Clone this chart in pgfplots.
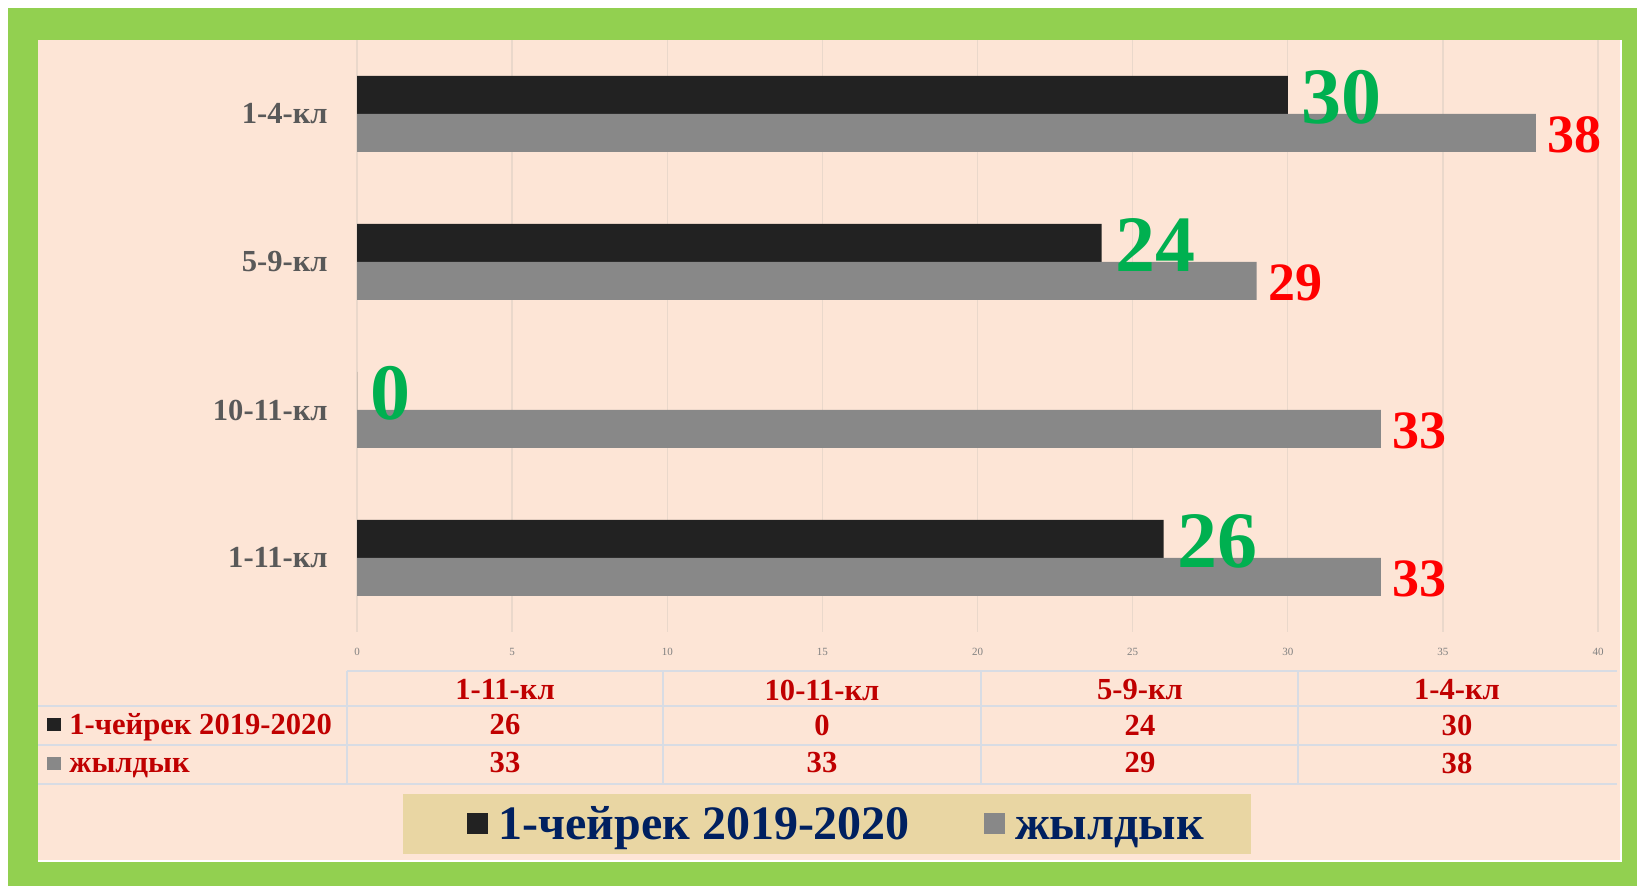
\documentclass[border=0pt]{standalone}
\usepackage{pgfplots}
\pgfplotsset{compat=1.18}
\usepackage{fontspec}
\setmainfont{Liberation Serif}
\definecolor{bordergreen}{HTML}{92D050}
\definecolor{peach}{HTML}{FDE5D6}
\definecolor{barblack}{HTML}{222222}
\definecolor{bargray}{HTML}{888888}
\definecolor{lblgreen}{HTML}{00B050}
\definecolor{lblred}{HTML}{FF0000}
\definecolor{tblred}{HTML}{C00000}
\definecolor{navy}{HTML}{002060}
\definecolor{papyrus}{HTML}{E9D6A3}
\definecolor{catgray}{HTML}{595959}
\definecolor{gridc}{HTML}{EAD8CB}
\definecolor{tblline}{HTML}{D8DCE4}
\newcommand{\tblfont}{\fontsize{15.3}{15.3}\selectfont\bfseries}
\begin{document}
\begin{tikzpicture}[x=0.5pt,y=0.5pt]
\fill[white] (0,0) rectangle (1637,886);
\fill[bordergreen] (8,0) rectangle (1637,878);
\fill[peach] (38,24) rectangle (1622,846);
\draw[white, line width=1.2pt] (1621,846) -- (1621,25) -- (38,25);
\fill[papyrus] (403,32) rectangle (1251,92);
% table grid
\begin{scope}[tblline, line width=0.7pt]
\draw (347,215) -- (1617,215);
\draw (38,180) -- (1617,180);
\draw (38,141) -- (1617,141);
\draw (38,102) -- (1617,102);
\foreach \x in {347,663,981,1298} \draw (\x,215) -- (\x,102);
\end{scope}
% table text
\begin{scope}[every node/.style={font=\tblfont, text=tblred, inner sep=0pt}]
\node at (505,196) {1-11-кл};
\node at (822,196) {10-11-кл};
\node at (1140,196) {5-9-кл};
\node at (1457,196) {1-4-кл};
\node at (505,161) {26};
\node at (822,161) {0};
\node at (1140,161) {24};
\node at (1457,161) {30};
\node at (505,123) {33};
\node at (822,123) {33};
\node at (1140,123) {29};
\node at (1457,123) {38};
\node[anchor=base west] at (69,151) {1-чейрек 2019-2020};
\node[anchor=base west] at (69,113) {жылдык};
\end{scope}
\fill[barblack] (47,155) rectangle (61,168);
\fill[bargray] (47,116) rectangle (61,129);
\begin{axis}[
  at={(178.5pt,127pt)}, anchor=south west,
  scale only axis, width=620.5pt, height=296pt,
  xbar, bar width=19pt,
  xmin=0, xmax=40, ymin=-0.5, ymax=3.5,
  axis line style={draw=none},
  major tick length=0pt,
  xmajorgrids, grid style={gridc, line width=0.7pt},
  xtick={0,5,...,40},
  xticklabel style={font=\fontsize{5.5}{5.5}\selectfont, text=gray, inner sep=0pt, anchor=center, yshift=-10pt},
  /pgf/number format/assume math mode=true,
  ytick={0,1,2,3},
  yticklabels={1-11-кл,10-11-кл,5-9-кл,1-4-кл},
  yticklabel style={font=\fontsize{15.3}{15.3}\selectfont\bfseries, text=catgray, inner sep=0pt, xshift=-14.5pt},
  legend columns=2,
  legend style={at={(0.3856,-0.3243)}, anchor=center, draw=none, fill=none,
    font=\fontsize{24}{24}\selectfont\bfseries, text=navy, nodes={inner sep=0pt},
    /tikz/every odd column/.append style={column sep=5pt},
    /tikz/every even column/.append style={column sep=37pt}},
  legend image code/.code={\fill[#1] (0pt,-5.25pt) rectangle (10.5pt,5.25pt);},
  clip=false,
]
\addplot[fill=barblack, draw=none, bar shift=9.5pt,
  nodes near coords,
  every node near coord/.append style={font=\fontsize{40}{40}\selectfont\bfseries, text=lblgreen, anchor=west, inner sep=0pt, xshift=6.5pt, yshift=-1pt}]
  coordinates {(26,0) (0,1) (24,2) (30,3)};
\addplot[fill=bargray, draw=none, bar shift=-9.5pt,
  nodes near coords,
  every node near coord/.append style={font=\fontsize{27}{27}\selectfont\bfseries, text=lblred, anchor=west, inner sep=0pt, xshift=5.5pt, yshift=-1pt}]
  coordinates {(33,0) (33,1) (29,2) (38,3)};
\legend{\strut 1-чейрек 2019-2020, \strut жылдык}
\end{axis}
\end{tikzpicture}
\end{document}
